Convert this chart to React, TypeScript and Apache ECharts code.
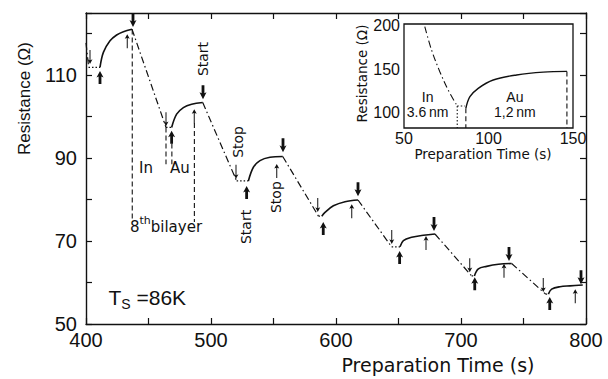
import React, { useEffect, useRef } from "react";
import * as echarts from "echarts";

// ---------- main plot data (time in s, resistance in Ohm) ----------
const xTickLabels = [400, 500, 600, 700, 800];
const yTickLabels = [50, 70, 90, 110];

// solid growth curves (Au deposition)
const growth1 = [[411.2, 111.9], [413.9, 115.5], [419.2, 118.3], [424.5, 119.7], [429.9, 120.5], [436.8, 121.1]];
const growth2 = [[468.5, 97.4], [472.5, 100.6], [477.9, 102.2], [484.5, 103.0], [493.4, 103.4]];
const growth3 = [[529.9, 84.5], [533.9, 87.8], [539.2, 89.4], [547.2, 90.2], [557.4, 90.4]];
const growth4 = [[588.6, 76.0], [591.2, 76.9], [597.9, 78.5], [607.2, 79.5], [617.6, 79.9]];
const growth5 = [[651.2, 68.6], [653.9, 70.1], [660.5, 70.9], [669.9, 71.4], [679.2, 71.7]];
const growth6 = [[710.7, 61.6], [713.9, 63.3], [720.5, 63.9], [730.0, 64.4], [740.5, 64.6]];
const growth7 = [[769.9, 57.2], [772.5, 58.4], [779.2, 59.0], [787.2, 59.2], [797.4, 59.4]];

// dash-dot descents (In deposition)
const descent0 = [[400.0, 117.8], [402.0, 112.3]];
const descent1 = [[436.8, 121.1], [464.0, 97.4]];
const descent2 = [[493.4, 103.4], [520.5, 84.5]];
const descent3 = [[557.4, 90.4], [586.0, 76.0]];
const descent4 = [[617.6, 79.9], [644.5, 68.6]];
const descent5 = [[679.2, 71.7], [708.5, 61.6]];
const descent6 = [[740.5, 64.6], [767.7, 57.2]];

// dotted pauses
const pause0 = [[402.0, 111.9], [411.2, 111.9]];
const pause1 = [[464.0, 97.4], [468.5, 97.4]];
const pause2 = [[520.5, 84.5], [529.9, 84.5]];
const pause3 = [[586.0, 76.0], [588.6, 76.0]];
const pause4 = [[644.5, 68.6], [651.2, 68.6]];
const pause5 = [[708.5, 61.6], [710.7, 61.6]];
const pause6 = [[767.7, 57.2], [769.9, 57.2]];

// vertical dashed markers
const markerA = [[437.0, 121.0], [437.0, 75.3]];
const markerB = [[486.7, 98.5], [486.7, 74.6]];
const markerC = [[464.0, 97.4], [464.0, 88.5]];
const markerD = [[468.7, 93.5], [468.7, 88.5]];

// arrow tips
const boldDownTips = [[437.6, 121.6], [493.6, 104.2], [557.6, 91.4], [617.6, 80.8], [678.4, 72.4], [738.4, 65.2], [796.0, 59.6]];
const boldUpTips = [[411.2, 111.0], [468.5, 96.6], [528.5, 83.3], [589.8, 74.6], [650.9, 67.6], [711.0, 61.3], [771.0, 56.5]];
const thinDownTips = [[403.2, 112.7], [464.0, 97.7], [520.0, 85.0], [585.4, 77.0], [644.6, 69.3], [707.0, 62.5], [765.8, 57.7]];
const thinUpTips = [[433.0, 119.9], [486.6, 101.8], [552.6, 88.6], [612.6, 78.9], [672.0, 71.2], [734.4, 64.5], [791.4, 58.4]];

// annotation anchors
const startStopLabels = ["Start", "Stop", "Start", "Stop"];
const startStopAt = [[493.6, 113.9], [521.2, 93.9], [528.0, 73.4], [552.0, 80.6]];
const inLabelAt = [448.0, 87.6];
const auLabelAt = [475.2, 87.6];
const bilayerLabelAt = [464.0, 73.9];
const tsLabelAt = [449.0, 56.1];

// ---------- inset data ----------
const insetXTickLabels = [50, 100, 150];
const insetYTickLabels = [100, 150, 200];
const insetInDescent = [[62.3, 198.9], [66.3, 172.0], [71.2, 147.0], [76.1, 125.9], [81.5, 107.4]];
const insetPause = [[81.5, 107.4], [86.0, 107.4]];
const insetAuGrowth = [[86.6, 104.8], [89.0, 118.1], [93.9, 127.8], [102.8, 137.4], [116.6, 143.2], [132.4, 146.5], [146.4, 147.3]];
const insetMarker1 = [[81.5, 107.4], [81.5, 82]];
const insetMarker2 = [[86.6, 104.8], [86.6, 82]];
const insetMarker3 = [[146.4, 147.3], [146.4, 82]];
const insetInLabelAt = [64.0, 109.0];
const insetAuLabelAt = [115.6, 109.0];

const INK = "#111";
const DASHDOT = [7, 3, 1.5, 3];
const DOTTED = [1.5, 2];
const DASHED = [5, 3];

const THIN_UP = "path://M5,0 L10,10 L6,8 L6,30 L4,30 L4,8 L0,10 Z";
const THIN_DOWN = "path://M4,0 L6,0 L6,22 L10,20 L5,30 L0,20 L4,22 Z";
const BOLD_UP = "path://M5,0 L10,13 L7,11 L7,26 L3,26 L3,11 L0,13 Z";
const BOLD_DOWN = "path://M3,0 L7,0 L7,15 L10,13 L5,26 L0,13 L3,15 Z";

function line(data: number[][], type: any, width: number, axis: number, smooth = false) {
  return {
    type: "line",
    data,
    xAxisIndex: axis,
    yAxisIndex: axis,
    symbol: "none",
    smooth: smooth ? 0.35 : false,
    silent: true,
    lineStyle: { color: INK, width, type },
  };
}

function arrows(data: number[][], path: string, w: number, h: number, up: boolean) {
  return {
    type: "scatter",
    data,
    xAxisIndex: 0,
    yAxisIndex: 0,
    symbol: path,
    symbolSize: [w, h],
    symbolKeepAspect: false,
    symbolOffset: [0, up ? h / 2 : -h / 2],
    itemStyle: { color: INK, opacity: 1 },
    silent: true,
    z: 5,
  };
}

function textPoint(at: number[], label: any, axis = 0) {
  return {
    type: "scatter",
    xAxisIndex: axis,
    yAxisIndex: axis,
    symbolSize: 0,
    silent: true,
    itemStyle: { color: INK, opacity: 1 },
    data: [
      {
        value: at,
        label: {
          show: true,
          position: "inside",
          color: INK,
          opacity: 1,
          textBorderWidth: 0,
          textBorderColor: "transparent",
          ...label,
        },
      },
    ],
  };
}

export default function App() {
  const ref = useRef<HTMLDivElement>(null);
  useEffect(() => {
    const chart = echarts.init(ref.current!, null, { renderer: "svg" });
    const axisLine = { show: true, lineStyle: { color: INK, width: 1.4 } };
    const tick = { show: true, inside: true, length: 6, lineStyle: { color: INK, width: 1.2 } };
    const mainFont = { fontFamily: "Liberation Sans", fontSize: 20, color: INK };
    const insetFont = { fontFamily: "Liberation Sans", fontSize: 16, color: INK };

    const series: any[] = [];
    [growth1, growth2, growth3, growth4, growth5, growth6, growth7].forEach((g) => series.push(line(g, "solid", 1.6, 0, true)));
    [descent0, descent1, descent2, descent3, descent4, descent5, descent6].forEach((d) => series.push(line(d, DASHDOT, 1.2, 0)));
    [pause0, pause1, pause2, pause3, pause4, pause5, pause6].forEach((p) => series.push(line(p, DOTTED, 1.2, 0)));
    [markerA, markerB, markerC, markerD].forEach((m) => series.push(line(m, DASHED, 1.1, 0)));
    series.push(arrows(boldDownTips, BOLD_DOWN, 7, 14, false));
    series.push(arrows(boldUpTips, BOLD_UP, 7, 13, true));
    series.push(arrows(thinDownTips, THIN_DOWN, 5, 14, false));
    series.push(arrows(thinUpTips, THIN_UP, 5, 14, true));

    startStopLabels.forEach((s, i) =>
      series.push(textPoint(startStopAt[i], { formatter: s, rotate: 90, fontFamily: "DejaVu Sans", fontSize: 14 }))
    );
    series.push(textPoint(inLabelAt, { formatter: "In", fontFamily: "DejaVu Sans", fontSize: 15 }));
    series.push(textPoint(auLabelAt, { formatter: "Au", fontFamily: "DejaVu Sans", fontSize: 15 }));
    series.push(
      textPoint(bilayerLabelAt, {
        formatter: "{a|8}{b|th}{a|bilayer}",
        rich: {
          a: { fontFamily: "DejaVu Sans", fontSize: 15, color: INK, lineHeight: 20, verticalAlign: "bottom" },
          b: { fontFamily: "DejaVu Sans", fontSize: 11, color: INK, lineHeight: 20, verticalAlign: "top" },
        },
      })
    );
    series.push(
      textPoint(tsLabelAt, {
        formatter: "{t|T}{s|S}{t| =86K}",
        rich: {
          t: { fontFamily: "Liberation Sans", fontSize: 21, color: INK, lineHeight: 24, verticalAlign: "top" },
          s: { fontFamily: "Liberation Sans", fontSize: 14, color: INK, lineHeight: 24, verticalAlign: "bottom" },
        },
      })
    );

    // inset
    series.push(line(insetInDescent, DASHDOT, 1.1, 2, true));
    series.push(line(insetPause, DOTTED, 1.1, 2));
    series.push(line(insetAuGrowth, "solid", 1.4, 2, true));
    series.push(line(insetMarker1, DOTTED, 1.1, 2));
    series.push(line(insetMarker2, DASHED, 1.1, 2));
    series.push(line(insetMarker3, DASHED, 1.1, 2));
    const insetLabel = { fontFamily: "Liberation Sans", fontSize: 14, lineHeight: 15, align: "center" };
    series.push(textPoint(insetInLabelAt, { ...insetLabel, formatter: "In\n3.6\u2009nm" }, 2));
    series.push(textPoint(insetAuLabelAt, { ...insetLabel, formatter: "Au\n1,2\u2009nm" }, 2));

    chart.setOption({
      animation: false,
      backgroundColor: "#fff",
      grid: [
        { left: 86, top: 13, width: 500, height: 312 },
        { left: 404, top: 24, width: 169, height: 104, show: true, borderColor: INK, borderWidth: 1.3, backgroundColor: "transparent" },
      ],
      xAxis: [
        {
          type: "value", gridIndex: 0, min: 400, max: 800, interval: 50,
          axisLine, axisTick: tick, splitLine: { show: false },
          axisLabel: { ...mainFont, margin: 6, formatter: (v: number) => (xTickLabels.includes(v) ? String(v) : "") },
          name: "Preparation Time (s)", nameLocation: "middle", nameGap: 31,
          nameTextStyle: { fontFamily: "DejaVu Sans", fontSize: 19, color: INK, padding: [0, 0, 0, 204] },
        },
        {
          type: "value", gridIndex: 0, position: "top", min: 400, max: 800, interval: 50,
          axisLine, axisTick: tick, splitLine: { show: false }, axisLabel: { show: false },
        },
        {
          type: "value", gridIndex: 1, min: 50, max: 150, interval: 50,
          axisLine: { show: false }, axisTick: { show: false }, splitLine: { show: false },
          axisLabel: { ...insetFont, margin: 2, formatter: (v: number) => (insetXTickLabels.includes(v) ? String(v) : "") },
          name: "Preparation Time (s)", nameLocation: "middle", nameGap: 17,
          nameTextStyle: { fontFamily: "DejaVu Sans", fontSize: 13.5, color: INK, padding: [0, 11, 0, 0] },
        },
      ],
      yAxis: [
        {
          type: "value", gridIndex: 0, min: 50, max: 125, interval: 10,
          axisLine, axisTick: tick, splitLine: { show: false },
          axisLabel: { ...mainFont, margin: 9, formatter: (v: number) => (yTickLabels.includes(v) ? String(v) : "") },
          name: "Resistance (\u03a9)", nameLocation: "middle", nameGap: 53, nameRotate: 90,
          nameTextStyle: { fontFamily: "Liberation Sans", fontSize: 17, color: INK, padding: [0, 0, 0, 140] },
        },
        {
          type: "value", gridIndex: 0, position: "right", min: 50, max: 125, interval: 10,
          axisLine, axisTick: tick, splitLine: { show: false }, axisLabel: { show: false },
        },
        {
          type: "value", gridIndex: 1, min: 82, max: 202, interval: 2,
          axisLine: { show: false }, axisTick: { show: false }, splitLine: { show: false },
          axisLabel: { ...insetFont, margin: 4, formatter: (v: number) => (insetYTickLabels.includes(v) ? String(v) : "") },
          name: "Resistance (\u03a9)", nameLocation: "middle", nameGap: 29, nameRotate: 90,
          nameTextStyle: { fontFamily: "DejaVu Sans", fontSize: 13.5, color: INK, padding: [0, 0, 0, 5] },
        },
      ],
      series,
    });
    return () => chart.dispose();
  }, []);
  return <div ref={ref} style={{ position: "fixed", left: 0, top: 0, width: 608, height: 379 }} />;
}
